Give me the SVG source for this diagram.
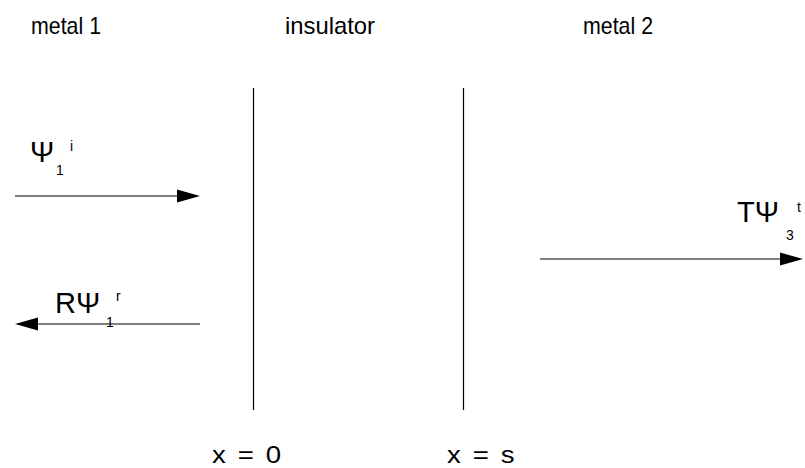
<svg xmlns="http://www.w3.org/2000/svg" width="805" height="468" viewBox="0 0 805 468">
<style>
text{font-family:"Liberation Sans",Arial,sans-serif;fill:#000}
.t{font-size:24px}
.b{font-size:23px;letter-spacing:1.8px}
.big{font-size:29px}
.s{font-size:14px}
.ln{stroke:#000;stroke-width:1.2;fill:none}
.ah{fill:#000}
</style>
<rect width="805" height="468" fill="#fff"/>
<g id="label-metal1"><text class="t" x="31" y="34" textLength="70" lengthAdjust="spacingAndGlyphs">metal 1</text></g>
<g id="label-insulator"><text class="t" x="285" y="34" textLength="90" lengthAdjust="spacingAndGlyphs">insulator</text></g>
<g id="label-metal2"><text class="t" x="583" y="34" textLength="70" lengthAdjust="spacingAndGlyphs">metal 2</text></g>
<g id="boundary-x0"><line class="ln" x1="253.5" y1="88" x2="253.5" y2="410"/></g>
<g id="boundary-xs"><line class="ln" x1="463.5" y1="88" x2="463.5" y2="410"/></g>
<g id="label-x0"><text class="b" transform="translate(212,463) scale(1.2,1)">x = 0</text></g>
<g id="label-xs"><text class="b" transform="translate(447,463) scale(1.2,1)">x = s</text></g>
<g id="label-psi1i"><text class="big" x="30" y="162">Ψ</text><text class="s" x="56" y="175">1</text><text class="s" x="70" y="151">i</text></g>
<g id="label-rpsi1r"><text class="big" x="55" y="313">RΨ</text><text class="s" x="106" y="327">1</text><text class="s" x="116" y="301">r</text></g>
<g id="label-tpsi3t"><text class="big" x="737" y="222">TΨ</text><text class="s" x="786" y="240">3</text><text class="s" x="797" y="212">t</text></g>
<g id="connectors">
<line class="ln" x1="15" y1="196" x2="182" y2="196"/>
<polygon class="ah" points="200,196 177,189.5 177,202.5"/>
<line class="ln" x1="34" y1="324" x2="200" y2="324"/>
<polygon class="ah" points="15,324 38,317.5 38,330.5"/>
<line class="ln" x1="540" y1="259" x2="786" y2="259"/>
<polygon class="ah" points="803,259 780,252.5 780,265.5"/>
</g>
</svg>
